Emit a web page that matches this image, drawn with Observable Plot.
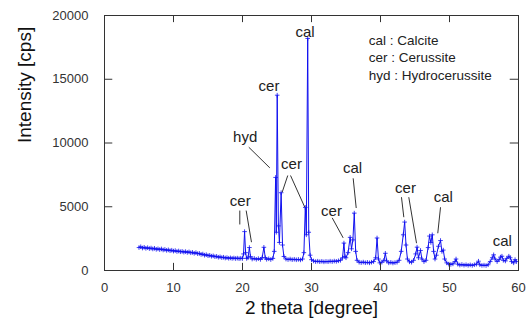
<!DOCTYPE html>
<html><head><meta charset="utf-8">
<script src="https://cdn.jsdelivr.net/npm/d3@7"></script>
<script src="https://cdn.jsdelivr.net/npm/@observablehq/plot@0.6"></script>
<style>body{margin:0;background:#fff}</style>
</head><body><div id="chart"></div>
<script>
// 2 theta [degree]
const twoTheta = [
 5.0,5.25,5.5,5.75,6.0,6.25,6.5,6.75,7.0,7.25,7.5,7.75,8.0,8.25,8.5,8.75,9.0,9.25,9.5,9.75,
 10.0,10.25,10.5,10.75,11.0,11.25,11.5,11.75,12.0,12.25,12.5,12.75,13.0,13.25,13.5,13.75,14.0,14.25,14.5,14.75,
 15.0,15.25,15.5,15.75,16.0,16.25,16.5,16.75,17.0,17.25,17.5,17.75,18.0,18.25,18.5,18.75,19.0,19.25,19.5,19.75,
 20.0,20.15,20.3,20.45,20.6,20.8,21.0,21.15,21.4,21.7,22.0,22.3,22.6,22.85,23.1,23.3,23.5,23.8,24.1,24.4,
 24.6,24.8,24.9,25.03,25.2,25.35,25.6,25.8,26.0,26.3,26.6,26.9,27.2,27.5,27.8,28.1,28.4,28.7,28.9,29.1,
 29.25,29.45,29.6,29.8,30.0,30.3,30.6,30.9,31.2,31.5,31.8,32.1,32.4,32.7,33.0,33.3,33.6,33.9,34.2,34.5,
 34.7,34.85,35.0,35.3,35.6,35.8,36.0,36.2,36.4,36.6,36.9,37.2,37.5,37.8,38.1,38.4,38.7,39.0,39.3,39.5,
 39.7,39.9,40.2,40.5,40.7,40.9,41.2,41.5,41.8,42.1,42.4,42.7,43.0,43.3,43.5,43.7,43.9,44.2,44.5,44.8,
 45.1,45.3,45.5,45.8,46.0,46.3,46.6,46.9,47.1,47.3,47.5,47.7,47.9,48.1,48.4,48.7,48.9,49.1,49.3,49.6,
 49.9,50.2,50.5,50.8,50.95,51.2,51.5,51.8,52.1,52.4,52.7,53.0,53.3,53.6,53.9,54.2,54.4,54.7,55.0,55.3,
 55.6,55.9,56.2,56.4,56.6,56.9,57.2,57.4,57.6,57.8,58.1,58.3,58.6,58.8,59.0,59.3,59.5,59.7
];
// Intensity [cps]
const intensity = [
 1800,1860,1760,1820,1740,1790,1720,1760,1690,1740,1660,1700,1640,1690,1610,1650,1580,1620,1550,1590,
 1520,1560,1490,1530,1470,1500,1440,1480,1420,1460,1390,1420,1350,1400,1320,1340,1260,1290,1200,1240,
 1160,1190,1120,1150,1080,1110,1040,1070,1010,1040,980,1010,960,990,950,980,940,970,930,960,
 950,1300,3050,1400,950,1000,1800,1100,900,950,880,930,870,1000,1820,1000,880,920,860,950,
 1500,7300,3000,13750,3500,2200,6100,2000,1100,900,860,900,850,880,840,870,830,900,1400,4950,
 2800,18200,3000,1200,850,750,700,730,690,720,680,710,690,730,700,740,720,760,800,1000,
 2150,1100,1000,1400,2600,1700,2400,4500,1500,800,650,620,660,610,640,600,650,700,1000,2550,
 900,600,650,800,1350,750,600,640,590,620,650,800,1500,2800,3800,2000,900,680,650,800,
 1300,1830,1000,1570,900,700,800,1800,2700,2200,2800,1500,900,1200,1900,2350,1500,1600,900,600,
 500,480,520,700,900,500,430,470,420,450,410,440,400,450,500,730,450,400,420,390,
 450,700,1000,1230,900,700,850,1050,1120,800,750,950,1120,1000,700,600,850,700
];
const xTicks = [0,10,20,30,40,50,60];
const yTicks = [0,5000,10000,15000,20000];

const peakLabels = ["cal","cer","hyd","cer","cer","cer","cal","cer","cal","cal"];
const peakLabelX = [29.06,23.84,20.39,27.1,19.68,32.9,35.94,43.62,49.1,57.65];
const peakLabelY = [18660,14430,10450,8360,5430,4650,8050,6480,5750,2300];

const leaderX1 = [20.91,26.56,26.96,19.61,20.53,33.0,36.04,43.04,44.1,48.7];
const leaderY1 = [9670,7450,7450,4700,4700,4130,7230,5750,5750,4960];
const leaderX2 = [23.96,25.75,29.03,19.61,21.3,34.59,36.48,43.38,45.22,48.3];
const leaderY2 = [8050,6140,4960,3610,2220,2560,4900,4180,2140,2920];

const legendLines = ["cal : Calcite","cer : Cerussite","hyd : Hydrocerussite"];
const legendX = 38.3;
const legendY = [18030,16680,15290];

const xTitle = "2 theta [degree]";
const yTitle = "Intensity [cps]";

const data = twoTheta.map((x,i)=>({x, y:intensity[i]}));
const labels = peakLabels.map((t,i)=>({t, x:peakLabelX[i], y:peakLabelY[i]}));
const leaders = leaderX1.map((x1,i)=>({x1, y1:leaderY1[i], x2:leaderX2[i], y2:leaderY2[i]}));
const legend = legendLines.map((t,i)=>({t, x:legendX, y:legendY[i]}));

const font = "'Liberation Sans', Arial, sans-serif";
const ink = "#333";
const chart = Plot.plot({
  width:532, height:324,
  marginLeft:104, marginRight:14, marginTop:15, marginBottom:54,
  style:{fontFamily:font, background:"#fff", color:"#222"},
  x:{domain:[0,60]},
  y:{domain:[0,20000]},
  marks:[
    Plot.line(data,{x:"x",y:"y",stroke:"#1010f0",strokeWidth:1}),
    Plot.dot(data,{x:"x",y:"y",symbol:"plus",r:1.6,stroke:"#1010f0",strokeWidth:0.8}),
    Plot.frame({stroke:ink}),
    Plot.ruleX(xTicks,{x:d=>d,y1:0,y2:560,stroke:ink}),
    Plot.ruleX(xTicks,{x:d=>d,y1:19440,y2:20000,stroke:ink}),
    Plot.ruleY(yTicks,{y:d=>d,x1:0,x2:1.2,stroke:ink}),
    Plot.ruleY(yTicks,{y:d=>d,x1:58.8,x2:60,stroke:ink}),
    Plot.axisX({ticks:xTicks,tickSize:0,tickPadding:12,fontSize:13,tickFormat:d=>String(d),label:null,fill:"#333"}),
    Plot.axisY({ticks:yTicks,tickSize:0,tickPadding:16,fontSize:13,tickFormat:d=>String(d),label:null,fill:"#333"}),
    Plot.link(leaders,{x1:"x1",y1:"y1",x2:"x2",y2:"y2",stroke:ink,strokeWidth:1}),
    Plot.text(labels,{x:"x",y:"y",text:"t",fontSize:15,fill:"#222"}),
    Plot.text(legend,{x:"x",y:"y",text:"t",fontSize:13.5,textAnchor:"start",fill:"#222"}),
    Plot.text([xTitle],{frameAnchor:"bottom",dy:43,fontSize:19,fill:"#111"}),
    Plot.text([yTitle],{frameAnchor:"left",dx:-80,rotate:-90,fontSize:19,fill:"#111"})
  ]
});
document.getElementById("chart").appendChild(chart);
</script>
</body></html>
